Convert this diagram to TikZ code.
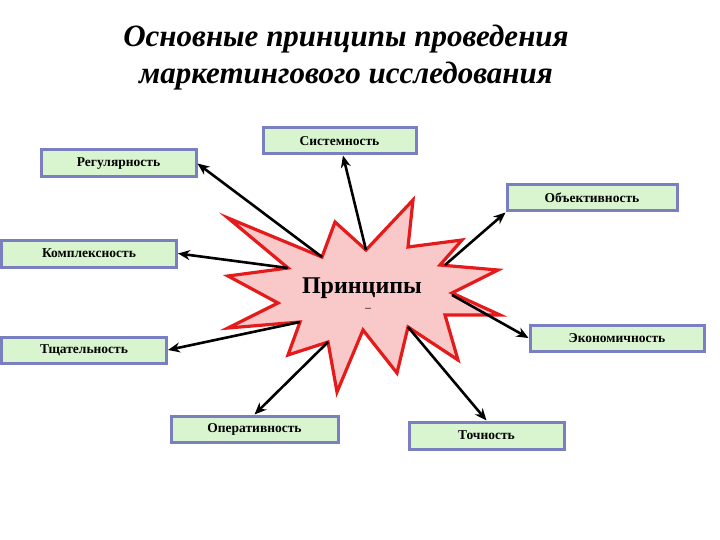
\documentclass[tikz,border=0pt]{standalone}
\usepackage{fontspec}
\setmainfont{Liberation Serif}
\usetikzlibrary{arrows.meta}
\definecolor{boxfill}{HTML}{D8F5CF}
\definecolor{boxline}{HTML}{7A7FC2}
\definecolor{starfill}{HTML}{F9C8C8}
\definecolor{starline}{HTML}{E51A1A}
\begin{document}
\begin{tikzpicture}[x=1pt,y=-1pt,
  pbox/.style={draw=boxline,line width=3pt,fill=boxfill,inner sep=0pt,font=\bfseries\fontsize{13.5}{15}\selectfont},
  arr/.style={draw=black,line width=2.6pt,-{Stealth[length=12pt,width=10pt]}}]
\useasboundingbox (0,0) rectangle (720,540);
\node[font=\bfseries\itshape\fontsize{31}{37}\selectfont,align=center] (title) at (346,58) {Основные принципы проведения\\маркетингового исследования};
\filldraw[fill=starfill,draw=starline,line width=3.2pt,line join=miter]
 (228,218) -- (322,257) -- (335,222) -- (366,250) -- (413,200) -- (408,247) -- (462,240) -- (440,265)
 -- (498,270) -- (452,293) -- (500,315) -- (445,315) -- (458,360) -- (408,327) -- (397,373) -- (363,330)
 -- (337,392) -- (328,342) -- (288,355) -- (300,322) -- (228,328) -- (278,303) -- (228,276) -- (288,268) -- cycle;
\node[font=\bfseries\fontsize{24}{28}\selectfont] (c) at (362,288) {Принципы};
\node[font=\fontsize{12}{14}\selectfont] (dash) at (368,310) {–};
\node[pbox,minimum width=153pt,minimum height=26pt] (b1) at (339.5,141) {Системность};
\node[pbox,minimum width=155pt,minimum height=27pt] (b2) at (118.5,163.5) {Регулярность};
\node[pbox,minimum width=170pt,minimum height=26pt] (b3) at (592,198) {Объективность};
\node[pbox,minimum width=175pt,minimum height=27pt] (b4) at (89,253.5) {Комплексность};
\node[pbox,minimum width=174pt,minimum height=26pt] (b5) at (617,338) {Экономичность};
\node[pbox,minimum width=165pt,minimum height=26pt] (b6) at (84,350) {Тщательность};
\node[pbox,minimum width=167pt,minimum height=26pt] (b7) at (254.5,429) {Оперативность};
\node[pbox,minimum width=155pt,minimum height=27pt] (b8) at (486.5,435.5) {Точность};
\coordinate (t1) at (366,250);
\coordinate (t2) at (322,257);
\coordinate (t3) at (445,265);
\coordinate (t4) at (288,268);
\coordinate (t5) at (452,295);
\coordinate (t6) at (300,322);
\coordinate (t7) at (328,342);
\coordinate (t8) at (408,327);
\draw[arr] (t1) -- (b1.south -| 343,0);
\draw[arr] (t2) -- (b2.east);
\draw[arr] (t3) -- (b3.south west);
\draw[arr] (t4) -- (b4.east);
\draw[arr] (t5) -- (b5.west);
\draw[arr] (t6) -- (b6.east);
\draw[arr] (t7) -- (b7.north);
\draw[arr] (t8) -- (b8.north);
\end{tikzpicture}
\end{document}
